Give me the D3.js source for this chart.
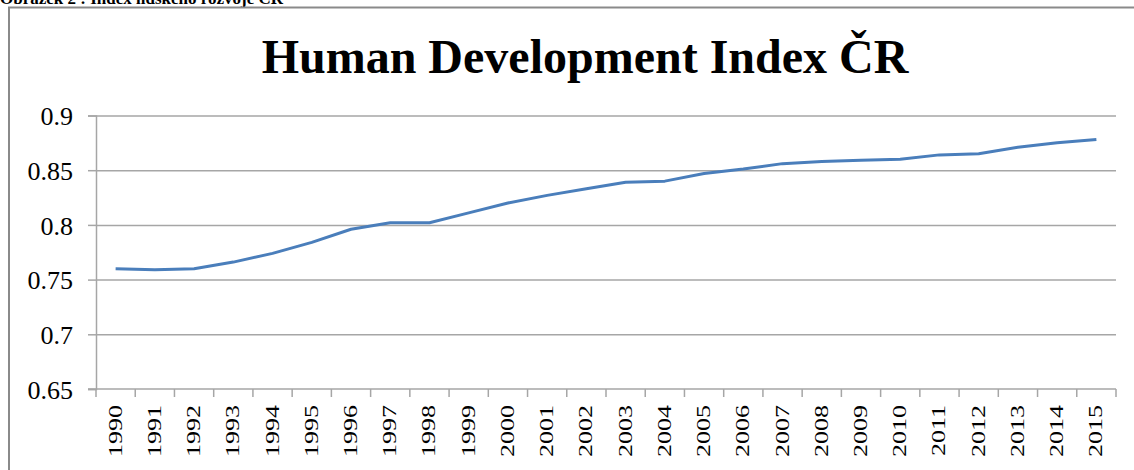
<!DOCTYPE html>
<html>
<head>
<meta charset="utf-8">
<script src="https://cdn.jsdelivr.net/npm/d3@7"></script>
<style>
  body { margin: 0; background: #fff; }
  svg { display: block; }
  text { font-family: "Liberation Serif", "Times New Roman", serif; fill: #000; }
</style>
</head>
<body>
<div id="chart"></div>
<script>
// Human Development Index, Czech Republic
const years = ["1990","1991","1992","1993","1994","1995","1996","1997","1998","1999","2000","2001","2002",
               "2003","2004","2005","2006","2007","2008","2009","2010","2011","2012","2013","2014","2015"];
const hdi = [0.760, 0.759, 0.760, 0.766, 0.774, 0.784, 0.796, 0.802, 0.802, 0.811, 0.820, 0.827, 0.833,
             0.839, 0.840, 0.847, 0.851, 0.856, 0.858, 0.859, 0.860, 0.864, 0.865, 0.871, 0.875, 0.878];
const yTicks = [0.65, 0.7, 0.75, 0.8, 0.85, 0.9];
const title = "Human Development Index ČR";
const caption = "Obrázek 2 : Index lidského rozvoje ČR";

const W = 1134, H = 470;
const margin = { left: 96, right: 18, top: 115.5, bottom: 81 };

const svg = d3.select("#chart").append("svg")
  .attr("width", W)
  .attr("height", H);

// caption of the figure, cut by the top edge
svg.append("text")
  .attr("x", 0)
  .attr("y", 4)
  .attr("font-size", 17)
  .attr("font-weight", "bold")
  .text(caption);

// chart frame
svg.append("rect")
  .attr("x", 9).attr("y", 7.5)
  .attr("width", 1152).attr("height", 480)
  .attr("fill", "none")
  .attr("stroke", "#8a8a8a")
  .attr("stroke-width", 2);

svg.append("text")
  .attr("x", 585)
  .attr("y", 73)
  .attr("text-anchor", "middle")
  .attr("font-size", 48)
  .attr("font-weight", "bold")
  .text(title);

const x = d3.scaleBand()
  .domain(years)
  .range([margin.left, W - margin.right]);

const y = d3.scaleLinear()
  .domain([0.65, 0.9])
  .range([H - margin.bottom, margin.top]);

const gridColor = "#a6a6a6";

// gridlines + y ticks
const yAxis = svg.append("g")
  .attr("transform", `translate(${margin.left},0)`)
  .call(d3.axisLeft(y).tickValues(yTicks).tickSize(8).tickPadding(15)
    .tickFormat(d => String(+d.toFixed(2))));
yAxis.select(".domain").attr("stroke", gridColor).attr("stroke-width", 1.5);
yAxis.selectAll(".tick line").attr("stroke", gridColor).attr("stroke-width", 1.5);
yAxis.selectAll(".tick text")
  .attr("font-size", 26)
  .attr("font-family", "Liberation Serif, Times New Roman, serif")
  .attr("dy", "0.35em");
yAxis.selectAll(".tick").filter(d => d > 0.65).append("line")
  .attr("x1", 0).attr("x2", W - margin.right - margin.left)
  .attr("stroke", gridColor).attr("stroke-width", 1.5);

// x axis with ticks on band boundaries
const xAxisG = svg.append("g")
  .attr("transform", `translate(0,${y(0.65)})`);
xAxisG.append("line")
  .attr("x1", margin.left - 8).attr("x2", W - margin.right)
  .attr("stroke", gridColor).attr("stroke-width", 1.5);
xAxisG.selectAll(".xt")
  .data(years.concat(["end"]))
  .join("line")
  .attr("class", "xt")
  .attr("x1", d => d === "end" ? x.range()[1] : x(d))
  .attr("x2", d => d === "end" ? x.range()[1] : x(d))
  .attr("y1", 0).attr("y2", 8)
  .attr("stroke", gridColor).attr("stroke-width", 1.5);

// rotated year labels, squeezed like the original
svg.append("g").selectAll("text")
  .data(years)
  .join("text")
  .attr("transform", d => `translate(${x(d) + x.bandwidth() / 2 + 6},${y(0.65) + 16}) rotate(-90) scale(1,0.72)`)
  .attr("text-anchor", "end")
  .attr("font-size", 26)
  .text(d => d);

// series line
const line = d3.line()
  .x((d, i) => x(years[i]) + x.bandwidth() / 2)
  .y(d => y(d));

svg.append("path")
  .datum(hdi)
  .attr("d", line)
  .attr("fill", "none")
  .attr("stroke", "#4a7ebb")
  .attr("stroke-width", 3)
  .attr("stroke-linejoin", "round");
</script>
</body>
</html>
